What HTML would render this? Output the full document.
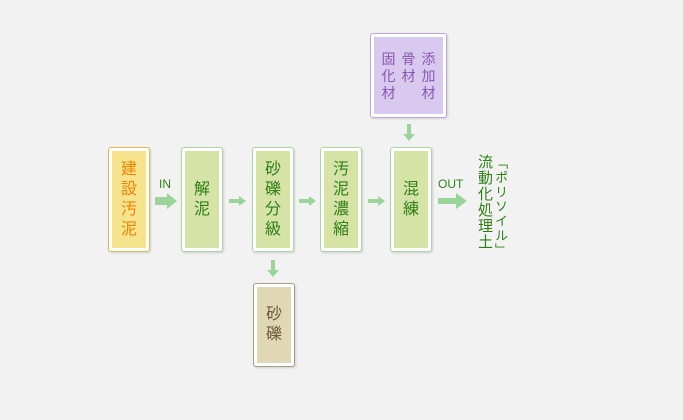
<!DOCTYPE html>
<html><head><meta charset="utf-8"><style>
body{margin:0;width:683px;height:420px;background:#f2f2f2;position:relative;overflow:hidden;font-family:"Liberation Sans","Noto Sans CJK JP",sans-serif}
.b{position:absolute;box-sizing:border-box;border-radius:3px;box-shadow:1px 1px 2px rgba(0,0,0,.15)}
.b .i{position:absolute;left:3px;top:3px;right:3px;bottom:3px;display:flex;align-items:center;justify-content:center;text-align:center;font-size:16px;line-height:20px}
.g{border:1.5px solid #a9d8a2;background:#fff}.g .i{background:#d5e3a7;color:#2f7f17}
.y{border:1.5px solid #eab54a;background:#fff}.y .i{background:#f6e38d;color:#f08300}
.p{border:1.5px solid #bda6df;background:#fff}.p .i{background:#d9c9ee;color:#8757b3}
.c{border:1.5px solid #a89e86;background:#fff}.c .i{background:#e0d7b7;color:#6b5b3b}
.t{position:absolute;font-size:12px;color:#2f7f17}
svg{position:absolute;left:0;top:0}
.v{position:absolute;writing-mode:vertical-rl;color:#2f7f17}
</style></head><body>
<div class="b y" style="left:108px;top:147px;width:42px;height:105px"><div class="i">建<br>設<br>汚<br>泥</div></div>
<div class="b g" style="left:181px;top:147px;width:42px;height:105px"><div class="i">解<br>泥</div></div>
<div class="b g" style="left:252px;top:147px;width:42px;height:105px"><div class="i">砂<br>礫<br>分<br>級</div></div>
<div class="b g" style="left:320px;top:147px;width:42px;height:105px"><div class="i">汚<br>泥<br>濃<br>縮</div></div>
<div class="b g" style="left:390px;top:147px;width:42px;height:105px"><div class="i">混<br>練</div></div>
<div class="b c" style="left:253px;top:283px;width:42px;height:84px"><div class="i">砂<br>礫</div></div>
<div class="b p" style="left:370px;top:33px;width:77px;height:85px"><div class="i" style="font-size:14px;line-height:17px;align-items:flex-start;padding-top:14px;gap:6px">
<span>固<br>化<br>材</span><span>骨<br>材</span><span>添<br>加<br>材</span></div></div>
<div class="t" style="left:159px;top:177px">IN</div>
<div class="t" style="left:438px;top:177px">OUT</div>
<svg width="683" height="420" fill="#9bd49a">
<polygon points="155,197 167,197 167,193 177,201 167,209 167,205 155,205"/>
<polygon points="438,198 456,198 456,193 467,201 456,209 456,204 438,204"/>
<polygon points="229,199 239,199 239,196 246,201 239,206 239,203 229,203"/>
<polygon points="299,199 309,199 309,196 316,201 309,206 309,203 299,203"/>
<polygon points="368,199 378,199 378,196 385,201 378,206 378,203 368,203"/>
<polygon points="407,124 411,124 411,134 415,134 409,141 403,134 407,134"/>
<polygon points="271,260 275,260 275,270 279,270 273,277 267,270 271,270"/>
</svg>
<div class="v" style="left:476px;top:154px;font-size:15px;line-height:16px;letter-spacing:1px">流動化処理土</div>
<div class="v" style="left:493px;top:156px;font-size:13px;line-height:15px;letter-spacing:1.5px">「ポリソイル」</div>
</body></html>
